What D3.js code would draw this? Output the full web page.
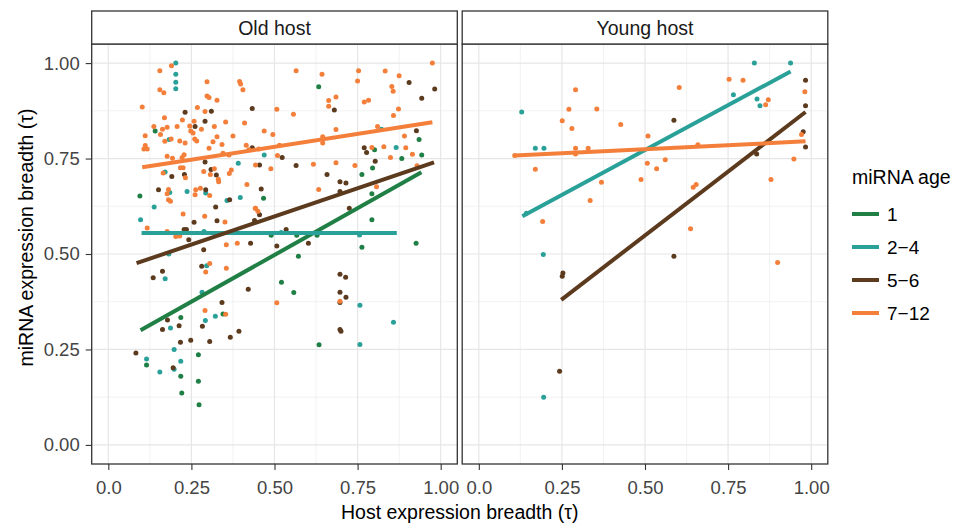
<!DOCTYPE html>
<html><head><meta charset="utf-8">
<script src="https://cdn.jsdelivr.net/npm/d3@7"></script>
<style>
body{margin:0;background:#fff}
svg{display:block}
text{font-family:"Liberation Sans",Arial,Helvetica,sans-serif}
</style>
</head><body><svg id="c" width="956" height="526"></svg>
<script>
// ---------- data ----------
const panels = ["Old host", "Young host"];
const ages = ["1", "2\u22124", "5\u22126", "7\u221212"];
const ageColors = ["#1f7f45", "#2aa198", "#5c3a1e", "#f37f3a"];
const xTicks = [0, 0.25, 0.5, 0.75, 1.0];
const xTickLabels = ["0.0", "0.25", "0.50", "0.75", "1.00"];
const yTicks = [0, 0.25, 0.5, 0.75, 1.0];
const yTickLabels = ["0.00", "0.25", "0.50", "0.75", "1.00"];
const xTitle = "Host expression breadth (\u03c4)";
const yTitle = "miRNA expression breadth (\u03c4)";
const legendTitle = "miRNA age";

// Old host points, one array per miRNA age: [host tau, miRNA tau]
const oldAge1 = [[0.633,0.938],[0.141,0.822],[0.935,0.80],[0.801,0.773],[0.943,0.759],[0.883,0.75],[0.795,0.725],[0.763,0.708],[0.793,0.658],[0.095,0.652],[0.467,0.646],[0.49,0.549],[0.567,0.549],[0.628,0.549],[0.572,0.494],[0.763,0.518],[0.793,0.59],[0.926,0.528],[0.521,0.426],[0.558,0.399],[0.345,0.343],[0.634,0.262],[0.218,0.334],[0.115,0.209],[0.271,0.236],[0.218,0.18],[0.271,0.167],[0.221,0.136],[0.273,0.105]];
const oldAge2to4 = [[0.203,1.0],[0.203,0.971],[0.203,0.95],[0.203,0.933],[0.822,0.827],[0.183,0.80],[0.866,0.779],[0.469,0.759],[0.391,0.738],[0.171,0.715],[0.185,0.661],[0.237,0.664],[0.293,0.66],[0.397,0.648],[0.357,0.64],[0.138,0.623],[0.097,0.59],[0.288,0.559],[0.52,0.556],[0.756,0.55],[0.182,0.5],[0.171,0.435],[0.296,0.469],[0.757,0.366],[0.858,0.321],[0.757,0.263],[0.282,0.4],[0.292,0.326],[0.322,0.337],[0.187,0.306],[0.198,0.25],[0.115,0.225],[0.218,0.219],[0.155,0.191],[0.198,0.198]];
const oldAge5to6 = [[0.905,0.949],[0.982,0.932],[0.943,0.908],[0.433,0.881],[0.68,0.877],[0.231,0.871],[0.31,0.874],[0.261,0.834],[0.291,0.848],[0.927,0.823],[0.433,0.778],[0.77,0.778],[0.777,0.766],[0.523,0.753],[0.291,0.741],[0.455,0.733],[0.565,0.732],[0.803,0.743],[0.309,0.721],[0.325,0.707],[0.191,0.703],[0.229,0.708],[0.658,0.708],[0.697,0.689],[0.715,0.686],[0.697,0.664],[0.151,0.668],[0.293,0.668],[0.46,0.67],[0.365,0.642],[0.323,0.623],[0.725,0.62],[0.228,0.564],[0.235,0.564],[0.242,0.537],[0.258,0.583],[0.327,0.587],[0.455,0.603],[0.44,0.588],[0.287,0.511],[0.428,0.528],[0.507,0.521],[0.535,0.564],[0.602,0.528],[0.163,0.455],[0.135,0.438],[0.281,0.468],[0.421,0.408],[0.697,0.447],[0.714,0.439],[0.697,0.40],[0.715,0.387],[0.697,0.373],[0.697,0.302],[0.70,0.298],[0.342,0.373],[0.283,0.311],[0.178,0.327],[0.213,0.312],[0.163,0.302],[0.248,0.274],[0.217,0.269],[0.305,0.271],[0.367,0.282],[0.393,0.298],[0.083,0.241],[0.195,0.202]];
const oldAge7to12 = [[0.975,1.0],[0.19,0.993],[0.155,0.98],[0.565,0.98],[0.643,0.971],[0.753,0.98],[0.833,0.979],[0.875,0.967],[0.297,0.951],[0.395,0.952],[0.398,0.945],[0.405,0.93],[0.75,0.953],[0.155,0.93],[0.167,0.922],[0.853,0.939],[0.857,0.926],[0.297,0.914],[0.303,0.91],[0.327,0.903],[0.663,0.902],[0.685,0.911],[0.663,0.887],[0.77,0.898],[0.783,0.903],[0.102,0.885],[0.507,0.879],[0.557,0.866],[0.873,0.88],[0.858,0.863],[0.268,0.884],[0.291,0.873],[0.169,0.857],[0.137,0.834],[0.157,0.813],[0.163,0.827],[0.177,0.832],[0.207,0.834],[0.223,0.851],[0.245,0.835],[0.258,0.848],[0.248,0.822],[0.255,0.817],[0.28,0.827],[0.319,0.834],[0.353,0.846],[0.41,0.843],[0.469,0.822],[0.495,0.813],[0.685,0.826],[0.81,0.834],[0.891,0.809],[0.111,0.81],[0.189,0.801],[0.17,0.795],[0.215,0.796],[0.231,0.791],[0.26,0.801],[0.266,0.796],[0.327,0.807],[0.375,0.809],[0.315,0.794],[0.342,0.787],[0.303,0.777],[0.111,0.784],[0.107,0.775],[0.117,0.775],[0.415,0.785],[0.423,0.773],[0.515,0.785],[0.453,0.775],[0.645,0.807],[0.645,0.791],[0.793,0.779],[0.829,0.781],[0.895,0.778],[0.915,0.761],[0.177,0.756],[0.193,0.751],[0.222,0.753],[0.228,0.76],[0.345,0.764],[0.363,0.759],[0.509,0.758],[0.849,0.753],[0.443,0.733],[0.617,0.735],[0.685,0.739],[0.742,0.732],[0.929,0.731],[0.217,0.726],[0.225,0.726],[0.319,0.723],[0.287,0.716],[0.307,0.708],[0.331,0.696],[0.332,0.689],[0.37,0.72],[0.364,0.711],[0.489,0.723],[0.165,0.712],[0.232,0.70],[0.417,0.682],[0.633,0.669],[0.807,0.676],[0.181,0.669],[0.177,0.658],[0.181,0.642],[0.187,0.638],[0.263,0.668],[0.277,0.672],[0.305,0.653],[0.261,0.655],[0.443,0.62],[0.117,0.568],[0.225,0.605],[0.177,0.559],[0.207,0.55],[0.215,0.547],[0.203,0.546],[0.29,0.599],[0.351,0.584],[0.355,0.524],[0.388,0.528],[0.442,0.62],[0.45,0.612],[0.305,0.475],[0.293,0.453],[0.355,0.463],[0.697,0.376],[0.291,0.352],[0.353,0.342],[0.507,0.372]];

// Young host points
const youngAge1 = [];
const youngAge2to4 = [[0.829,1.0],[0.938,1.0],[0.766,0.917],[0.837,0.906],[0.846,0.888],[0.129,0.872],[0.17,0.777],[0.196,0.777],[0.143,0.607],[0.194,0.499],[0.195,0.125]];
const youngAge5to6 = [[0.983,0.955],[0.983,0.888],[0.587,0.85],[0.976,0.82],[0.983,0.78],[0.836,0.762],[0.587,0.494],[0.253,0.45],[0.251,0.442],[0.243,0.193]];
const youngAge7to12 = [[0.753,0.958],[0.795,0.955],[0.291,0.93],[0.603,0.936],[0.981,0.925],[0.871,0.904],[0.863,0.891],[0.271,0.879],[0.355,0.88],[0.251,0.849],[0.28,0.829],[0.427,0.839],[0.509,0.809],[0.971,0.813],[0.291,0.777],[0.291,0.762],[0.329,0.777],[0.659,0.786],[0.948,0.749],[0.17,0.722],[0.507,0.738],[0.535,0.723],[0.561,0.747],[0.488,0.695],[0.369,0.688],[0.879,0.695],[0.645,0.675],[0.654,0.682],[0.335,0.64],[0.192,0.585],[0.637,0.566],[0.899,0.478],[0.108,0.758]];

// Fitted regression lines per age: [x start, y start, x end, y end] (null = none)
const oldFits = [[0.097,0.30,0.942,0.714],[0.10,0.555,0.868,0.555],[0.085,0.476,0.98,0.74],[0.102,0.727,0.975,0.845]];
const youngFits = [null,[0.131,0.599,0.938,0.978],[0.248,0.38,0.983,0.872],[0.108,0.758,0.983,0.795]];

// ---------- drawing ----------
const svg = d3.select("#c");
const panelTop = 44, panelBottom = 464, stripTop = 11;
const panelX = [[91.7, 457.3], [462.2, 827.8]];
const panelPoints = [[oldAge1, oldAge2to4, oldAge5to6, oldAge7to12],[youngAge1, youngAge2to4, youngAge5to6, youngAge7to12]];
const panelFits = [oldFits, youngFits];
const y = d3.scaleLinear().domain([-0.05, 1.05]).range([panelBottom, panelTop]);
const minor = v => d3.pairs(v).map(([a,b]) => (a+b)/2);

panels.forEach((name, p) => {
  const [l, r] = panelX[p];
  const x = d3.scaleLinear().domain([-0.05, 1.05]).range([l, r]);
  const g = svg.append("g");
  g.append("rect").attr("x", l).attr("y", panelTop).attr("width", r - l).attr("height", panelBottom - panelTop).attr("fill", "#fff");
  // minor grid
  g.selectAll(".mvx").data(minor(xTicks)).join("line")
    .attr("x1", d => x(d)).attr("x2", d => x(d)).attr("y1", panelTop).attr("y2", panelBottom)
    .attr("stroke", "#f1f1f1").attr("stroke-width", 0.9);
  g.selectAll(".mhy").data(minor(yTicks)).join("line")
    .attr("y1", d => y(d)).attr("y2", d => y(d)).attr("x1", l).attr("x2", r)
    .attr("stroke", "#f1f1f1").attr("stroke-width", 0.9);
  // major grid
  g.selectAll(".gvx").data(xTicks).join("line")
    .attr("x1", d => x(d)).attr("x2", d => x(d)).attr("y1", panelTop).attr("y2", panelBottom)
    .attr("stroke", "#e6e6e6").attr("stroke-width", 1.2);
  g.selectAll(".ghy").data(yTicks).join("line")
    .attr("y1", d => y(d)).attr("y2", d => y(d)).attr("x1", l).attr("x2", r)
    .attr("stroke", "#e6e6e6").attr("stroke-width", 1.2);

  // points
  panelPoints[p].forEach((pts, a) => {
    g.append("g").selectAll("circle").data(pts).join("circle")
      .attr("cx", d => x(d[0])).attr("cy", d => y(d[1])).attr("r", 2.5)
      .attr("fill", ageColors[a]);
  });
  // fit lines
  panelFits[p].forEach((f, a) => {
    if (!f) return;
    g.append("line").attr("x1", x(f[0])).attr("y1", y(f[1])).attr("x2", x(f[2])).attr("y2", y(f[3]))
      .attr("stroke", ageColors[a]).attr("stroke-width", 4);
  });

  // panel border
  g.append("rect").attr("x", l).attr("y", panelTop).attr("width", r - l).attr("height", panelBottom - panelTop)
    .attr("fill", "none").attr("stroke", "#333").attr("stroke-width", 1.3);
  // strip
  g.append("rect").attr("x", l).attr("y", stripTop).attr("width", r - l).attr("height", panelTop - stripTop)
    .attr("fill", "#fff").attr("stroke", "#333").attr("stroke-width", 1.3);
  g.append("text").attr("x", (l + r) / 2).attr("y", (stripTop + panelTop) / 2).attr("dy", "0.36em")
    .attr("text-anchor", "middle").attr("font-size", 19.5).attr("fill", "#1a1a1a").text(name);

  // x axis
  const xa = svg.append("g").attr("transform", `translate(0,${panelBottom})`)
    .call(d3.axisBottom(x).tickValues(xTicks).tickFormat((d, i) => xTickLabels[i]).tickSize(6).tickSizeOuter(0).tickPadding(10.5));
  xa.select(".domain").remove();
  xa.selectAll("line").attr("stroke", "#333").attr("stroke-width", 1.1);
  xa.selectAll("text").attr("font-size", 18.5).attr("fill", "#444").attr("font-family", null);

  if (p === 0) {
    const ya = svg.append("g").attr("transform", `translate(${l},0)`)
      .call(d3.axisLeft(y).tickValues(yTicks).tickFormat((d, i) => yTickLabels[i]).tickSize(6).tickSizeOuter(0).tickPadding(6));
    ya.select(".domain").remove();
    ya.selectAll("line").attr("stroke", "#333").attr("stroke-width", 1.1);
    ya.selectAll("text").attr("font-size", 18.5).attr("fill", "#444").attr("font-family", null);
  }
});

// axis titles
svg.append("text").attr("x", (panelX[0][0] + panelX[1][1]) / 2).attr("y", 512).attr("dy", "0.35em")
  .attr("text-anchor", "middle").attr("font-size", 19.5).attr("fill", "#000").text(xTitle);
svg.append("text").attr("transform", `translate(26,${(stripTop + panelBottom) / 2}) rotate(-90)`).attr("dy", "0.35em")
  .attr("text-anchor", "middle").attr("font-size", 19.5).attr("fill", "#000").text(yTitle);

// legend
const lg = svg.append("g");
lg.append("text").attr("x", 852).attr("y", 177).attr("dy", "0.35em").attr("font-size", 19.5).attr("fill", "#000").text(legendTitle);
const ly = d3.scalePoint().domain(ages).range([214, 313]);
lg.selectAll(".k").data(ages).join("line")
  .attr("x1", 852).attr("x2", 879).attr("y1", d => ly(d)).attr("y2", d => ly(d))
  .attr("stroke", (d, i) => ageColors[i]).attr("stroke-width", 4);
lg.selectAll(".t").data(ages).join("text")
  .attr("x", 887).attr("y", d => ly(d)).attr("dy", "0.35em").attr("font-size", 19).attr("fill", "#000").text(d => d);
</script>
</body></html>
